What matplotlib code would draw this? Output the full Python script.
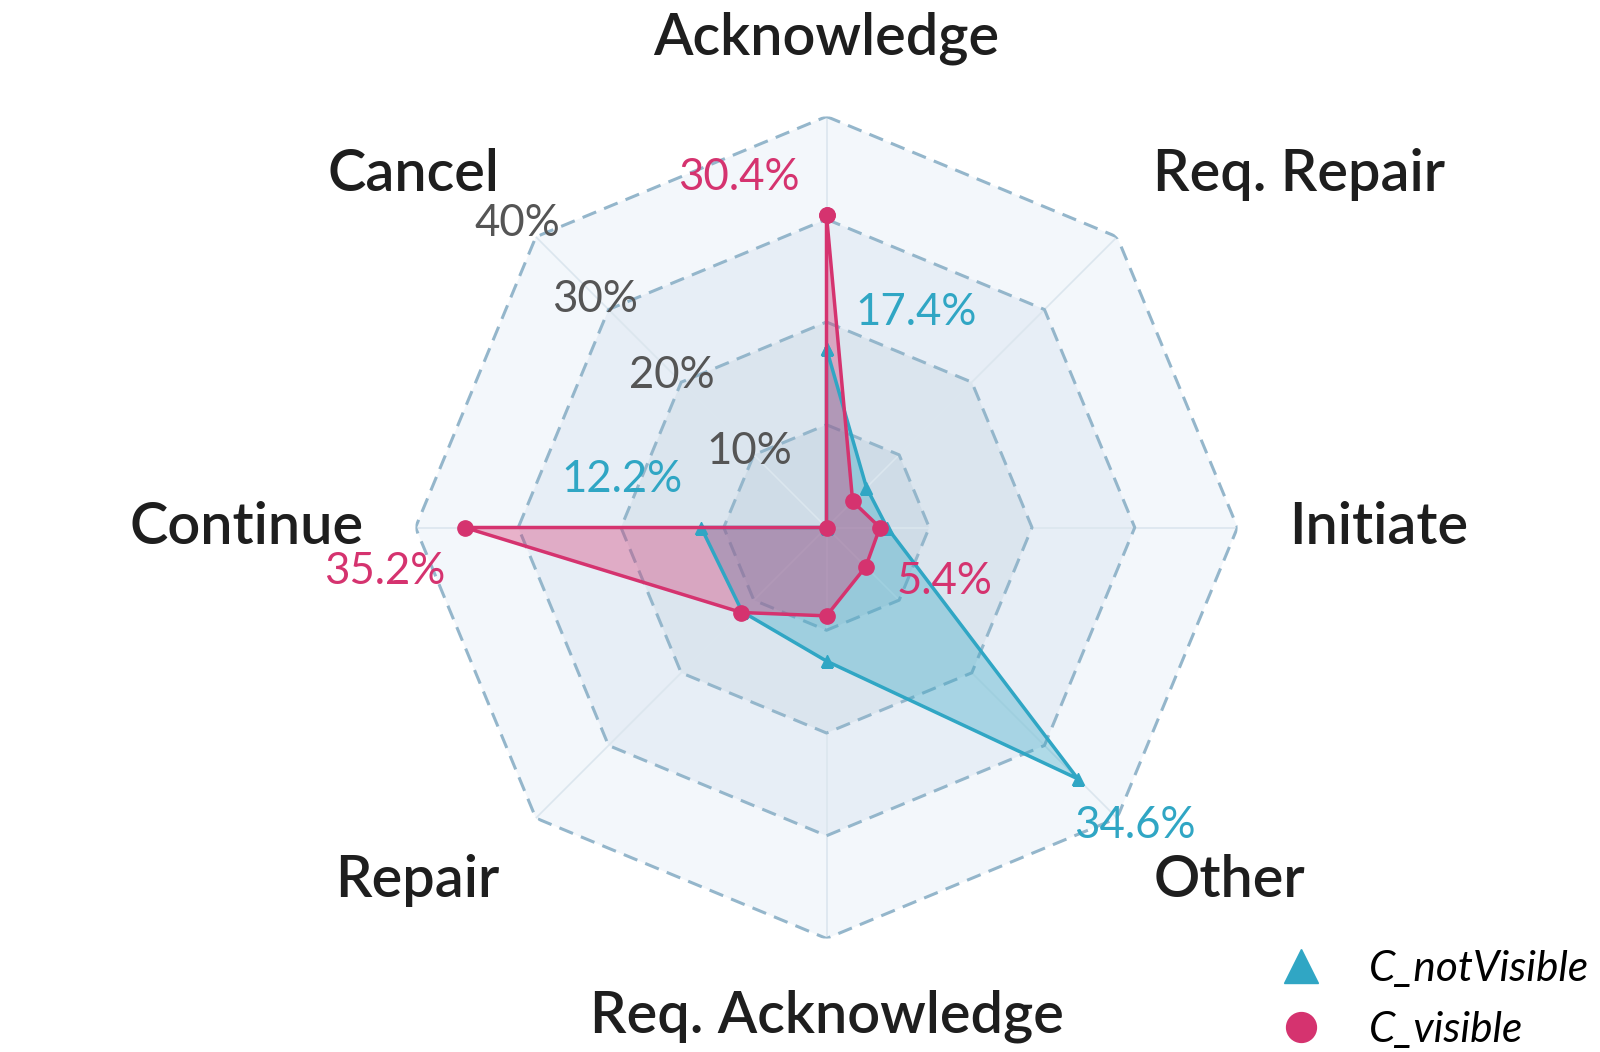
import numpy as np
import matplotlib
matplotlib.use('Agg')
import matplotlib.pyplot as plt
from matplotlib.lines import Line2D

#%% data
categories = ['Acknowledge', 'Req. Repair', 'Initiate', 'Other',
              'Req. Acknowledge', 'Repair', 'Continue', 'Cancel']
not_visible = [17.4, 5.5, 5.9, 34.6, 13.0, 11.6, 12.2, 0.0]
visible = [30.4, 3.6, 5.2, 5.4, 8.6, 11.7, 35.2, 0.0]
rings = [10, 20, 30, 40]
ring_labels = ['10%', '20%', '30%', '40%']
# which categories get a value label
labelled = ['Acknowledge', 'Continue', 'Other']

blue = '#30a6c4'
pink = '#d5336f'

plt.rcParams['font.family'] = ['Lato', 'DejaVu Sans']

#%% figure
fig = plt.figure(figsize=(16, 10.52), dpi=100, facecolor='w')
cx, cy, R = 826.5, 527.5, 411.0
ax = fig.add_axes([(cx - R) / 1600, (1052 - cy - R) / 1052, 2 * R / 1600, 2 * R / 1052],
                  projection='polar')
ax.set_theta_zero_location('N')
ax.set_theta_direction(-1)
ax.set_ylim(0, 40)
ax.grid(False)
ax.set_xticks([])
ax.set_yticks([])
ax.spines['polar'].set_visible(False)
ax.patch.set_alpha(0)

n = len(categories)
theta = np.arange(n) * 2 * np.pi / n
tc = np.append(theta, theta[0])

# background octagons
band_cols = ['#f3f7fb', '#e7eef6', '#dbe5ee', '#cfdce7']
for r, c in zip(rings[::-1], band_cols):
    ax.fill(tc, [r] * (n + 1), color=c, zorder=0, lw=0)
for a in theta:
    ax.plot([a, a], [0, rings[-1]], color='#dbe6ee', lw=1.2, zorder=1)
for r in rings:
    ax.plot(tc, [r] * (n + 1), color='#94b6cb', lw=2.2, dashes=(4.8, 2.8), zorder=1)

# ring labels along the Cancel spoke
for r, lab in zip(rings, ring_labels):
    ax.text(theta[-1] - np.radians(0.5), r * 1.055, lab, ha='center', va='center',
            fontsize=31.5, color='#555555', zorder=5)

# series
def series(vals, col, mk, ms, name):
    vc = np.append(vals, vals[0])
    ax.fill(tc, vc, color=col, alpha=0.35, lw=0, zorder=2)
    ax.plot(tc, vc, color=col, lw=2.5, marker=mk, ms=ms, zorder=3, label=name)

series(not_visible, blue, '^', 9, 'C_notVisible')
series(visible, pink, 'o', 11, 'C_visible')

# value labels (offsets in points)
offs_blue = {'Acknowledge': (20.6, 17.3, 'left'), 'Continue': (-13.2, 25.2, 'right'),
             'Other': (-2.6, -42.8, 'left')}
offs_pink = {'Acknowledge': (-19.2, 18, 'right'), 'Continue': (-13.9, -40.8, 'right'),
             'Other': (22.5, -19.7, 'left')}
for vals, col, offs in [(not_visible, blue, offs_blue), (visible, pink, offs_pink)]:
    for cat in labelled:
        i = categories.index(cat)
        dx, dy, ha = offs[cat]
        ax.annotate('%.1f%%' % vals[i], xy=(theta[i], vals[i]), xytext=(dx, dy),
                    textcoords='offset points', ha=ha, va='baseline',
                    fontsize=31.5, color=col, zorder=6)

# category labels
for a, cat in zip(theta, categories):
    s, c = np.sin(a), np.cos(a)
    ha = 'center' if abs(s) < 0.1 else ('left' if s > 0 else 'right')
    va = 'center' if abs(c) < 0.1 else ('bottom' if c > 0 else 'top')
    ax.text(a, 45, cat, ha=ha, va=va, fontsize=41.5, fontweight='semibold',
            color='#1e1e1e', zorder=6)

# legend
handles = [Line2D([], [], ls='none', marker='^', ms=24.5, color=blue),
           Line2D([], [], ls='none', marker='o', ms=21.5, color=pink)]
fig.legend(handles, ['C_notVisible', 'C_visible'], loc='lower left',
           bbox_to_anchor=(0.8, 0.003), frameon=False, borderpad=0, borderaxespad=0,
           handlelength=1, handletextpad=1.1, labelspacing=0.55,
           prop={'size': 30.5, 'style': 'italic'})

fig.savefig('out.png', dpi=100, facecolor='w')
